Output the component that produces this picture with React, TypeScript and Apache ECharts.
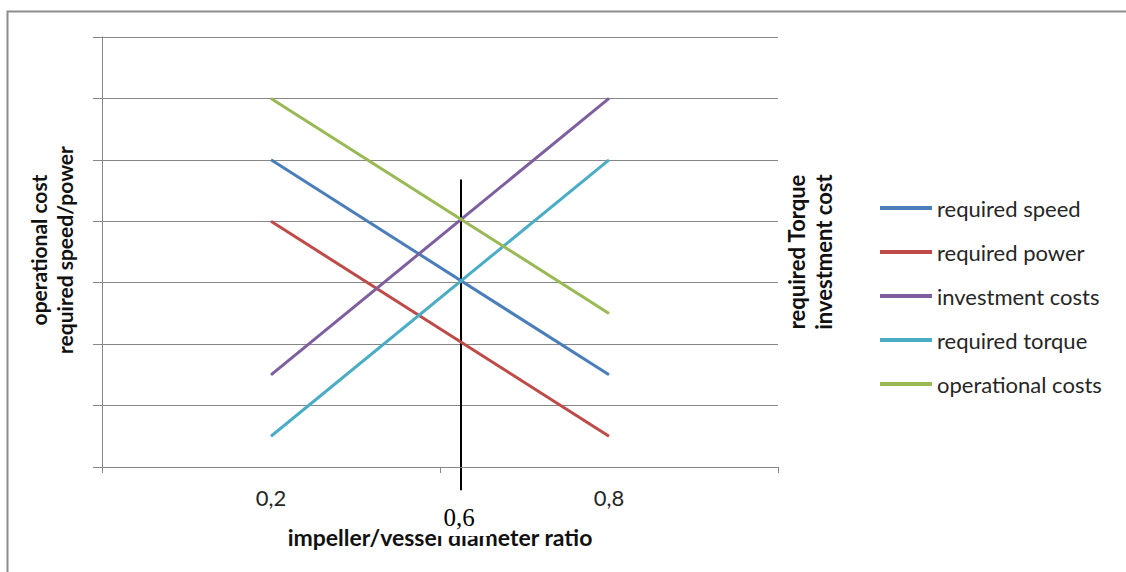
import React, { useEffect, useRef } from "react";
import * as echarts from "echarts";

const categories = ["0,2", "0,8"];
const requiredSpeed = [5, 1.5];
const requiredPower = [4, 0.5];
const investmentCosts = [1.5, 6];
const requiredTorque = [0.5, 5];
const operationalCosts = [6, 2.5];

const seriesNames = [
  "required speed",
  "required power",
  "investment costs",
  "required torque",
  "operational costs",
];
const seriesValues = [requiredSpeed, requiredPower, investmentCosts, requiredTorque, operationalCosts];
const seriesColors = ["#4A7EBB", "#BE4B48", "#7D5FA0", "#4BACC6", "#98B954"];

const yMin = 0;
const yMax = 7;
const yInterval = 1;

const xTitle = "impeller/vessel diameter ratio";
const leftTitle = "operational cost\nrequired speed/power";
const rightTitle = "required Torque\ninvestment cost";

// hand-drawn marker between the two categories
const markerFraction = 0.562;
const markerTop = 4.68;
const markerBottom = -0.38;
const markerLabel = "0,6";

const FONT = "Lato, 'Open Sans', sans-serif";

export default function App() {
  const ref = useRef<HTMLDivElement>(null);

  useEffect(() => {
    document.body.style.margin = "0";
    const chart = echarts.init(ref.current!, null, { renderer: "svg" });
    const option: any = {
      animation: false,
      backgroundColor: "#ffffff",
      grid: { left: 102, right: 348, top: 37, bottom: 105, containLabel: false },
      xAxis: {
        type: "category",
        data: categories,
        boundaryGap: true,
        axisLine: { lineStyle: { color: "#868686", width: 1 } },
        axisTick: { show: true, length: 6, lineStyle: { color: "#868686" } },
        axisLabel: { color: "#262626", fontSize: 22, fontFamily: FONT, margin: 19 },
        splitLine: { show: false },
      },
      yAxis: [
        {
          type: "value",
          min: yMin,
          max: yMax,
          interval: yInterval,
          axisLine: { show: true, lineStyle: { color: "#868686", width: 1 } },
          axisTick: { show: true, length: 9, lineStyle: { color: "#868686" } },
          axisLabel: { show: false },
          splitLine: { show: true, lineStyle: { color: "#868686", width: 1 } },
        },
      ],
      legend: {
        orient: "vertical",
        left: 880,
        top: 197,
        padding: 0,
        icon: "rect",
        itemWidth: 52,
        itemHeight: 4,
        itemGap: 22,
        data: seriesNames,
        textStyle: { color: "#262626", fontSize: 22, fontFamily: FONT, lineHeight: 22 },
      },
      series: seriesNames.map((name, i) => ({
        name,
        type: "line",
        data: seriesValues[i],
        symbol: "none",
        lineStyle: { color: seriesColors[i], width: 3 },
        itemStyle: { color: seriesColors[i] },
      })),
    };
    chart.setOption(option);

    const x0 = chart.convertToPixel({ xAxisIndex: 0 }, 0) as number;
    const x1 = chart.convertToPixel({ xAxisIndex: 0 }, 1) as number;
    const mx = Math.round(x0 + (x1 - x0) * markerFraction);
    const yTop = chart.convertToPixel({ yAxisIndex: 0 }, markerTop) as number;
    const yBot = chart.convertToPixel({ yAxisIndex: 0 }, markerBottom) as number;
    const xMid = (x0 + x1) / 2;

    chart.setOption({
      graphic: [
        {
          type: "rect",
          shape: { x: 7.5, y: 11.5, width: 1300, height: 800 },
          style: { fill: "none", stroke: "#8c8c8c", lineWidth: 2 },
          silent: true,
        },
        {
          type: "text",
          x: 51,
          y: 250,
          rotation: Math.PI / 2,
          style: {
            text: leftTitle,
            fill: "#111",
            font: `bold 21px ${FONT}`,
            lineHeight: 26,
            textAlign: "center",
            textVerticalAlign: "middle",
          },
        },
        {
          type: "text",
          x: 810,
          y: 252,
          rotation: Math.PI / 2,
          style: {
            text: rightTitle,
            fill: "#111",
            font: `bold 22px ${FONT}`,
            lineHeight: 27,
            textAlign: "center",
            textVerticalAlign: "middle",
          },
        },
        {
          type: "text",
          x: xMid,
          y: 537,
          style: {
            text: xTitle,
            fill: "#111",
            font: `bold 23px ${FONT}`,
            textAlign: "center",
            textVerticalAlign: "middle",
          },
        },
        {
          type: "rect",
          shape: { x: 437, y: 500, width: 53, height: 36 },
          style: { fill: "#ffffff" },
          silent: true,
        },
        {
          type: "line",
          shape: { x1: mx, y1: yTop, x2: mx, y2: yBot },
          style: { stroke: "#000000", lineWidth: 2 },
        },
        {
          type: "text",
          x: mx - 2,
          y: 517,
          style: {
            text: markerLabel,
            fill: "#000",
            font: `25px 'Liberation Serif', 'Times New Roman', serif`,
            textAlign: "center",
            textVerticalAlign: "middle",
          },
        },
      ],
    });

    return () => chart.dispose();
  }, []);

  return <div ref={ref} style={{ width: 1126, height: 572 }} />;
}
